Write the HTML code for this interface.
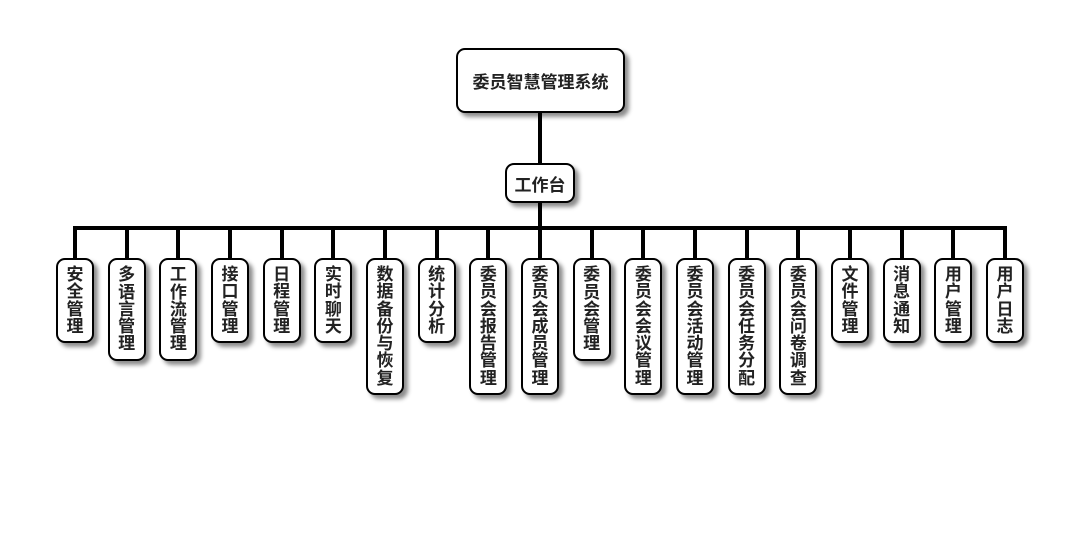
<!DOCTYPE html>
<html><head><meta charset="utf-8">
<style>
body{margin:0;width:1080px;height:560px;background:#fff;position:relative;overflow:hidden;font-family:"Liberation Sans","Noto Sans CJK SC",sans-serif;}
.b{position:absolute;background:#fff;border:2px solid #000;border-radius:9px;box-sizing:border-box;box-shadow:4px 4px 4px rgba(0,0,0,0.45);font-weight:bold;color:#222;display:flex;align-items:center;justify-content:center;}
.v{width:38px;top:258px;font-size:17px;line-height:17.3px;text-align:center;padding:0 10px;word-break:break-all;}
.l{position:absolute;background:#000;}
</style></head><body>
<div class="l" style="left:538px;top:110px;width:4px;height:55px"></div>
<div class="l" style="left:538px;top:200px;width:4px;height:30px"></div>
<div class="l" style="left:73px;top:226px;width:934px;height:4px"></div>
<div class="b" style="left:456px;top:48px;width:169px;height:65px;font-size:17px">委员智慧管理系统</div>
<div class="b" style="left:505px;top:163px;width:70px;height:40px;font-size:17px">工作台</div>
<div id="c"></div>
<script>
var items=["安全管理","多语言管理","工作流管理","接口管理","日程管理","实时聊天","数据备份与恢复","统计分析","委员会报告管理","委员会成员管理","委员会管理","委员会会议管理","委员会活动管理","委员会任务分配","委员会问卷调查","文件管理","消息通知","用户管理","用户日志"];
var h="";
items.forEach(function(t,i){
 var cx=75+i*(930/18);
 var n=t.length;
 var hh=Math.round(16+n*17.3);
 h+='<div class="l" style="left:'+(cx-2)+'px;top:228px;width:4px;height:31px"></div>';
 h+='<div class="b v" style="left:'+(cx-19)+'px;height:'+hh+'px">'+t+'</div>';
});
document.getElementById("c").innerHTML=h;
</script>
</body></html>
